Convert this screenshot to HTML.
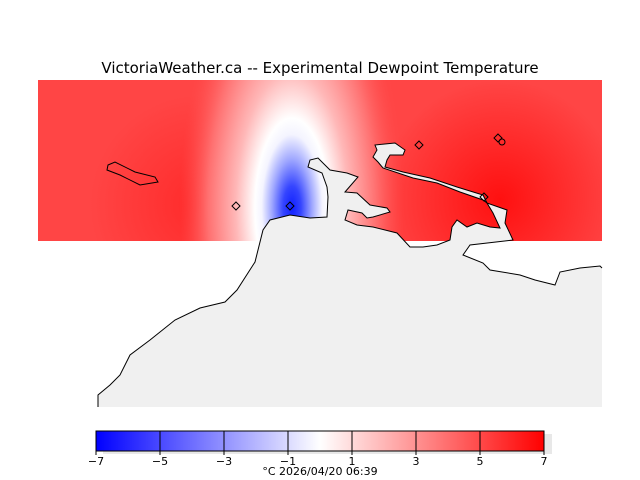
<!DOCTYPE html>
<html><head><meta charset="utf-8"><style>
html,body{margin:0;padding:0;background:#fff;width:640px;height:480px;overflow:hidden}
svg{display:block}
</style></head><body>
<svg width="640" height="480" viewBox="0 0 640 480" xmlns="http://www.w3.org/2000/svg" font-family="DejaVu Sans, Liberation Sans, sans-serif">
<defs>
<clipPath id="mc"><rect x="38" y="80" width="564" height="161"/></clipPath>
<radialGradient id="rg" cx="292" cy="208" r="170" gradientUnits="userSpaceOnUse" gradientTransform="translate(292 208) scale(0.66 1.6) translate(-292 -208)">
<stop offset="0" stop-color="#1020ff"/>
<stop offset="0.08" stop-color="#3545ff"/>
<stop offset="0.18" stop-color="#a0a8ff"/>
<stop offset="0.27" stop-color="#f4f4ff"/>
<stop offset="0.33" stop-color="#ffffff"/>
<stop offset="0.5" stop-color="#ffb8b8"/>
<stop offset="0.75" stop-color="#ff7070"/>
<stop offset="1" stop-color="#ff4a4a" stop-opacity="0"/>
</radialGradient>
<radialGradient id="rr" cx="500" cy="200" r="120" gradientUnits="userSpaceOnUse">
<stop offset="0" stop-color="#ff1010"/>
<stop offset="1" stop-color="#ff1010" stop-opacity="0"/>
</radialGradient>
<radialGradient id="rl" cx="200" cy="205" r="110" gradientUnits="userSpaceOnUse">
<stop offset="0" stop-color="#ff2a2a"/>
<stop offset="1" stop-color="#ff2a2a" stop-opacity="0"/>
</radialGradient>
<linearGradient id="cb" x1="0" x2="1">
<stop offset="0" stop-color="#0000ff"/>
<stop offset="0.5" stop-color="#ffffff"/>
<stop offset="1" stop-color="#ff0000"/>
</linearGradient>
</defs>
<text x="320" y="73" text-anchor="middle" font-size="15" fill="#000">VictoriaWeather.ca -- Experimental Dewpoint Temperature</text>
<g clip-path="url(#mc)">
<rect x="38" y="80" width="564" height="161" fill="#ff4545"/>
<rect x="38" y="80" width="564" height="161" fill="url(#rr)"/>
<rect x="38" y="80" width="564" height="161" fill="url(#rl)"/>
<rect x="38" y="80" width="564" height="161" fill="url(#rg)"/>
</g>
<path d="M98,407 L98,395 L110,385 L120,375 L130,355 L150,340 L175,320 L200,308 L225,302 L237,290 L255,262 L263,230 L270,220 L290,215 L310,218 L327,217 L328,197 L327,187 L322,173 L308,167 L310,160 L318,158 L330,170 L347,173 L358,177 L345,192 L357,193 L370,205 L387,208 L390,212 L373,217 L367,218 L362,213 L348,210 L345,220 L357,225 L373,227 L397,233 L410,247 L423,247 L437,245 L450,240 L452,227 L457,220 L467,227 L477,223 L490,227 L500,228 L493,213 L487,203 L507,210 L505,223 L513,240 L470,245 L463,255 L483,263 L490,270 L520,275 L535,280 L555,285 L560,272 L580,268 L600,266 L602,268 L602,407 Z" fill="#f0f0f0" stroke="none"/>
<path d="M98,407 L98,395 L110,385 L120,375 L130,355 L150,340 L175,320 L200,308 L225,302 L237,290 L255,262 L263,230 L270,220 L290,215 L310,218 L327,217 L328,197 L327,187 L322,173 L308,167 L310,160 L318,158 L330,170 L347,173 L358,177 L345,192 L357,193 L370,205 L387,208 L390,212 L373,217 L367,218 L362,213 L348,210 L345,220 L357,225 L373,227 L397,233 L410,247 L423,247 L437,245 L450,240 L452,227 L457,220 L467,227 L477,223 L490,227 L500,228 L493,213 L487,203 L507,210 L505,223 L513,240 L470,245 L463,255 L483,263 L490,270 L520,275 L535,280 L555,285 L560,272 L580,268 L600,266 L602,268" fill="none" stroke="#000" stroke-width="1"/>
<path d="M377,150 L375,145 L395,143 L405,150 L403,155 L390,155 L387,160 L385,167 L403,172 L430,178 L457,187 L483,195 L487,203 L483,200 L460,192 L437,183 L413,178 L383,168 L378,162 L373,157 Z" fill="#f0f0f0" stroke="#000" stroke-width="1"/>
<path d="M108,165 L115,162 L135,172 L155,177 L158,182 L140,185 L120,175 L107,170 Z" fill="none" stroke="#000" stroke-width="1"/>
<g fill="none" stroke="#000" stroke-width="1">
<path d="M236,202 L240,206 L236,210 L232,206 Z"/>
<path d="M290,202 L294,206 L290,210 L286,206 Z"/>
<path d="M419,141 L423,145 L419,149 L415,145 Z"/>
<path d="M498,134 L502,138 L498,142 L494,138 Z"/>
<path d="M484,193 L488,197 L484,201 L480,197 Z"/>
<circle cx="502" cy="142" r="3"/>
</g>
<rect x="103" y="434" width="449" height="20" fill="#e8e8e8"/>
<rect x="96" y="431" width="448" height="20" fill="url(#cb)" stroke="#000" stroke-width="1"/>
<g stroke="#000" stroke-width="1">
<line x1="160" y1="431" x2="160" y2="451"/><line x1="224" y1="431" x2="224" y2="451"/>
<line x1="288" y1="431" x2="288" y2="451"/><line x1="352" y1="431" x2="352" y2="451"/>
<line x1="416" y1="431" x2="416" y2="451"/><line x1="480" y1="431" x2="480" y2="451"/>
<line x1="96" y1="451" x2="96" y2="455"/><line x1="160" y1="451" x2="160" y2="455"/><line x1="224" y1="451" x2="224" y2="455"/><line x1="288" y1="451" x2="288" y2="455"/><line x1="352" y1="451" x2="352" y2="455"/><line x1="416" y1="451" x2="416" y2="455"/><line x1="480" y1="451" x2="480" y2="455"/><line x1="544" y1="451" x2="544" y2="455"/>
</g>
<g font-size="11" text-anchor="middle" fill="#000">
<text x="96" y="465">−7</text><text x="160" y="465">−5</text><text x="224" y="465">−3</text><text x="288" y="465">−1</text>
<text x="352" y="465">1</text><text x="416" y="465">3</text><text x="480" y="465">5</text><text x="544" y="465">7</text>
<text x="320" y="475">°C  2026/04/20 06:39</text>
</g>
</svg>
</body></html>
